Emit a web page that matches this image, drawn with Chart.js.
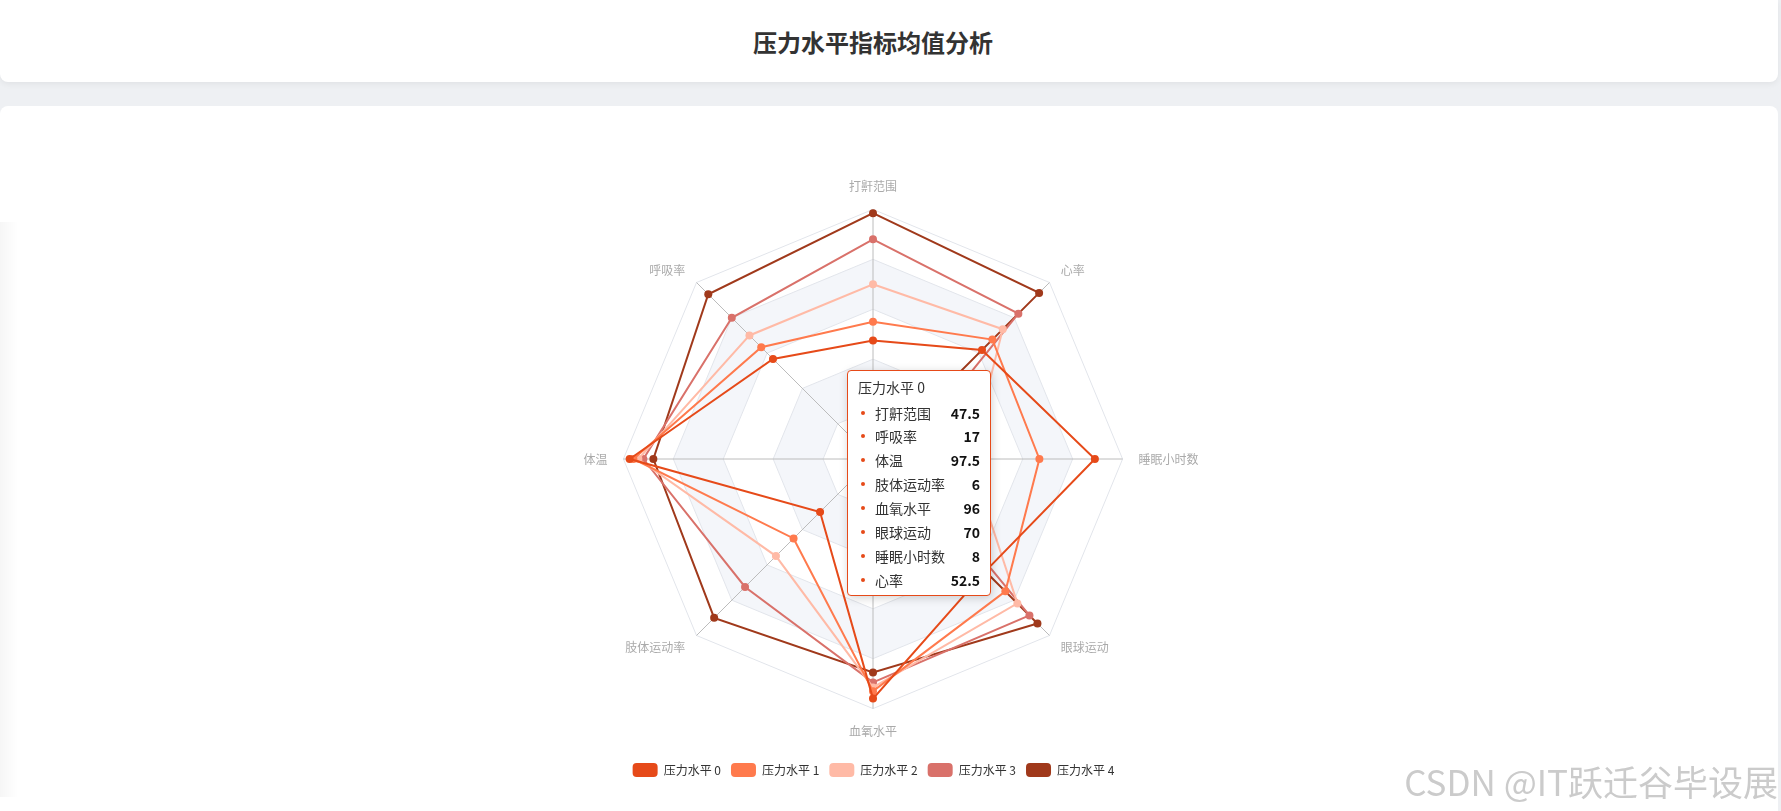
<!DOCTYPE html>
<html>
<head>
<meta charset="utf-8">
<script src="https://cdn.jsdelivr.net/npm/chart.js@4.4.1/dist/chart.umd.min.js"></script>
<style>
  html, body { margin: 0; padding: 0; }
  body { width: 1781px; height: 811px; background: #eef0f3; position: relative; overflow: hidden;
         font-family: 'Noto Sans CJK SC', 'Noto Sans', sans-serif; }
  #header { position: absolute; left: 0; top: 0; width: 1778px; height: 82px; background: #fff;
            border-radius: 0 0 8px 8px; box-shadow: 0 2px 6px rgba(0,0,0,0.06); }
  #title { position: absolute; left: 0; width: 1746px; top: 24px; text-align: center;
           font-size: 24px; font-weight: bold; color: #333; line-height: 36px; }
  #card { position: absolute; left: 0; top: 106px; width: 1778px; height: 720px; background: #fff;
          border-radius: 8px 8px 0 0; }
  #lshadow { position: absolute; left: 0; top: 222px; width: 18px; height: 575px;
             background: linear-gradient(to right, rgba(0,0,0,0.035), rgba(0,0,0,0)); }
  #wrap { position: absolute; left: 0; top: 179px; width: 1747px; height: 608px; }
  #tip { position: absolute; box-sizing: border-box; width: 144px; height: 226px; background: #fff;
         border: 1px solid #E64A19; border-radius: 4px; box-shadow: 1px 2px 10px rgba(0,0,0,0.18);
         font-size: 14px; color: #333; }
  #tip .t { position: absolute; left: 10px; top: 5px; line-height: 22px; white-space: nowrap; }
  #tip .row { position: absolute; left: 0; right: 0; height: 24px; line-height: 24px; white-space: nowrap; }
  #tip .dot { position: absolute; left: 13px; top: 10px; width: 4px; height: 4px; border-radius: 50%; }
  #tip .nm { position: absolute; left: 27px; }
  #tip .vl { position: absolute; right: 10px; font-weight: bold; color: #111; }
  #wm { position: absolute; right: 3px; top: 759px; font-size: 35px; line-height: 44px; color: #cbcbcb; white-space: nowrap; }
</style>
</head>
<body>
<div id="header"><div id="title">压力水平指标均值分析</div></div>
<div id="card"></div>
<div id="lshadow"></div>
<div id="wrap"><canvas id="c"></canvas></div>
<div id="tip"></div>
<div id="wm">CSDN @IT跃迁谷毕设展</div>
<script>
// Indicators, clockwise from top (Chart.js order)
const indicators = ['打鼾范围', '心率', '睡眠小时数', '眼球运动', '血氧水平', '肢体运动率', '体温', '呼吸率'];
const indicatorMax = [100, 85, 9, 110, 100, 20, 100, 30];
// order the tooltip lists them (counter-clockwise from top)
const tooltipOrder = [0, 7, 6, 5, 4, 3, 2, 1];

const seriesNames = ['压力水平 0', '压力水平 1', '压力水平 2', '压力水平 3', '压力水平 4'];
const level0 = [47.5, 52.5, 8, 70, 96, 6, 97.5, 17];
const level1 = [55, 57.5, 6, 82.5, 93, 9, 96, 19];
const level2 = [70, 62.5, 3.5, 90, 91.5, 11, 94, 21];
const level3 = [88, 70, 1, 97.5, 89.5, 14.5, 92, 24];
const level4 = [98.5, 80, 0, 102.5, 85.5, 18, 88, 28];
const seriesColors = ['#E64A19', '#FF7A4D', '#FFBAA6', '#D9716A', '#A0391B'];

const allLevels = [level0, level1, level2, level3, level4];

Chart.defaults.font.family = "'Noto Sans CJK SC', 'Noto Sans', sans-serif";

const splitColors = ['rgba(255,255,255,0)', '#f4f6fa'];
const splitAreaPlugin = {
  id: 'splitArea',
  beforeDraw(chart) {
    const s = chart.scales.r;
    const ctx = chart.ctx;
    const n = indicators.length;
    const steps = [0, 0.2, 0.4, 0.6, 0.8, 1];
    ctx.save();
    for (let k = 1; k < steps.length; k++) {
      const col = splitColors[(k - 1) % 2];
      ctx.beginPath();
      for (let i = 0; i < n; i++) {
        const p = s.getPointPositionForValue(i, steps[k]);
        if (i === 0) ctx.moveTo(p.x, p.y); else ctx.lineTo(p.x, p.y);
      }
      ctx.closePath();
      if (k > 1) {
        for (let i = n - 1; i >= 0; i--) {
          const p = s.getPointPositionForValue(i, steps[k - 1]);
          if (i === n - 1) ctx.moveTo(p.x, p.y); else ctx.lineTo(p.x, p.y);
        }
        ctx.closePath();
      }
      ctx.fillStyle = col;
      ctx.fill('evenodd');
    }
    ctx.restore();
  }
};

const datasets = allLevels.map((vals, li) => ({
  label: seriesNames[li],
  data: vals.map((v, i) => v / indicatorMax[i]),
  borderColor: seriesColors[li],
  backgroundColor: seriesColors[li],
  pointBackgroundColor: seriesColors[li],
  pointBorderColor: seriesColors[li],
  pointBorderWidth: 0,
  pointRadius: 4,
  borderWidth: 2,
  fill: false
}));

const chart = new Chart(document.getElementById('c'), {
  type: 'radar',
  data: { labels: indicators, datasets },
  plugins: [splitAreaPlugin],
  options: {
    responsive: true,
    maintainAspectRatio: false,
    animation: false,
    events: [],
    layout: { padding: 0 },
    plugins: {
      tooltip: { enabled: false },
      legend: {
        position: 'bottom',
        title: { display: true, text: '', padding: 0, font: { size: 12, lineHeight: '13px' } },
        labels: {
          boxWidth: 25, boxHeight: 14, padding: 10, color: '#333',
          font: { size: 12 },
          useBorderRadius: true, borderRadius: 4,
          generateLabels(ch) {
            const items = Chart.defaults.plugins.legend.labels.generateLabels(ch);
            items.forEach(it => {
              it.fillStyle = seriesColors[it.datasetIndex];
              it.strokeStyle = seriesColors[it.datasetIndex];
              it.lineWidth = 0;
              it.borderRadius = 4;
            });
            return items;
          }
        }
      }
    },
    scales: {
      r: {
        min: 0, max: 1,
        ticks: { display: false, stepSize: 0.2 },
        grid: { color: '#e2e5eb', lineWidth: 1 },
        angleLines: { color: '#bcbcbc', lineWidth: 1 },
        pointLabels: {
          color: '#aaaaaa',
          padding: 16,
          font: (ctx) => (ctx.index % 2 === 1 ? { size: 12, lineHeight: '1px' } : { size: 12 })
        }
      }
    }
  }
});

// Tooltip box for 压力水平 0, placed relative to the radar centre
const r = chart.scales.r;
const tip = document.getElementById('tip');
const wrap = document.getElementById('wrap');
tip.style.left = (wrap.offsetLeft + r.xCenter - 26) + 'px';
tip.style.top = (wrap.offsetTop + r.yCenter - 89) + 'px';
let html = '<div class="t">' + seriesNames[0] + '</div>';
tooltipOrder.forEach((idx, k) => {
  html += '<div class="row" style="top:' + (29.5 + k * 23.9) + 'px">' +
          '<span class="dot" style="background:' + seriesColors[0] + '"></span>' +
          '<span class="nm">' + indicators[idx] + '</span>' +
          '<span class="vl">' + level0[idx] + '</span></div>';
});
tip.innerHTML = html;
</script>
</body>
</html>
